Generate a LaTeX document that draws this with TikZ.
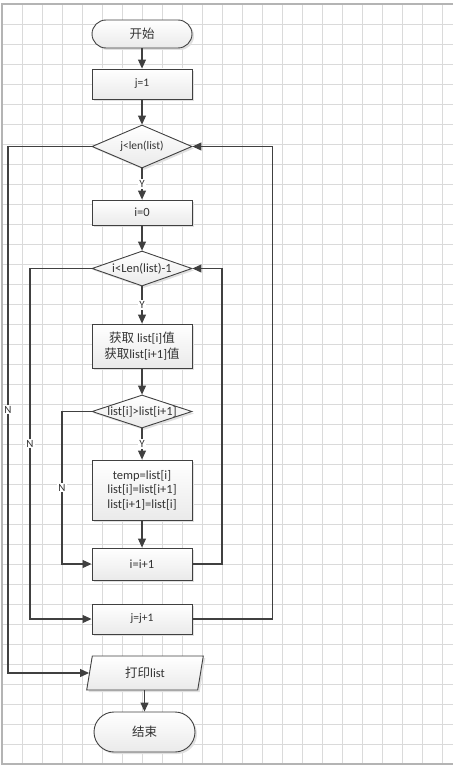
\documentclass[tikz,border=0pt]{standalone}
\usepackage{fontspec}
\setmainfont{Carlito}
\newfontfamily\cjk{Noto Sans CJK SC}
\usepackage{xcolor}
\usetikzlibrary{arrows.meta}
\usetikzlibrary{shapes.geometric}
\usetikzlibrary{shadows}
\definecolor{flowgray}{HTML}{404040}
\definecolor{gridgray}{HTML}{DADADA}
\definecolor{edgegray}{HTML}{B4B4B4}
\definecolor{boxbottom}{HTML}{EAEAEA}

\begin{document}
\begin{tikzpicture}[x=1pt,y=-1pt,
		font=\fontsize{12.5}{14.5}\selectfont, text=black!80,
		box/.style={draw=flowgray,line width=0.9pt,top color=white,bottom color=boxbottom,
			drop shadow={shadow xshift=2pt,shadow yshift=-2pt,fill=black!12,opacity=1},
			inner sep=0pt,minimum width=100pt,align=center},
		proc/.style={box,rectangle},
		term/.style={box,rectangle,rounded corners=#1},
		cond/.style={box,diamond},
		io/.style={box,trapezium,trapezium left angle=64,trapezium right angle=116,
			trapezium stretches body,minimum width=116.6pt},
		smalltext/.style={font=\fontsize{11.5}{14}\selectfont},
		flow/.style={draw=flowgray,line width=1.1pt},
		arr/.style={flow,-{Triangle[length=9pt,width=8pt]}},
		lbl/.style={fill=white,inner sep=1pt,font=\fontsize{11}{13}\selectfont}]
	\useasboundingbox (0,0) rectangle (453,765);
	% background grid
	\foreach \x in {2,22,...,442}
		\draw[gridgray,line width=0.8pt] (\x,4) -- (\x,764);
	\foreach \y in {4,24,...,764}
		\draw[gridgray,line width=0.8pt] (2,\y) -- (453,\y);
	\draw[edgegray,line width=1.2pt] (453,4) -- (2,4) -- (2,764) -- (453,764);
	
	% steps of the sort
	\node[term=14pt,minimum height=28pt] (start) at (142,34) {{\cjk 开始}};
	\node[proc,smalltext,minimum height=30pt] (jinit) at (142,84) {j=1};
	\node[cond,smalltext,minimum height=43pt] (outer) at (142,146.5) {\makebox[0pt]{j<len(list)}};
	\node[proc,minimum height=25pt] (iinit) at (142,212.5) {i=0};
	\node[cond,minimum height=35pt] (inner) at (142,268.5) {\makebox[0pt]{i<Len(list)-1}};
	\node[proc,minimum height=44pt,font=\fontsize{12.5}{16.5}\selectfont] (fetch) at (142,346)
		{{\cjk 获取} list[i]{\cjk 值}\\{\cjk 获取}list[i+1]{\cjk 值}};
	\node[cond,minimum height=33pt] (cmp) at (142,411.5) {\makebox[0pt]{list[i]>list[i+1]}};
	\node[proc,minimum height=60pt] (swap) at (142,490) {temp=list[i]\\list[i]=list[i+1]\\list[i+1]=list[i]};
	\node[proc,minimum height=32pt] (inci) at (142,564) {i=i+1};
	\node[proc,smalltext,minimum height=30pt] (incj) at (142,619) {j=j+1};
	\node[io,minimum height=34pt] (print) at (145,673) {{\cjk 打印}list};
	\node[term=20pt,minimum height=40pt,minimum width=101pt] (stop) at (144.5,732) {{\cjk 结束}};
	
	% main line
	\draw[arr] (start) -- (jinit);
	\draw[arr] (jinit) -- (outer);
	\draw[arr] (outer) -- node[lbl]{Y} (iinit);
	\draw[arr] (iinit) -- (inner);
	\draw[arr] (inner) -- node[lbl]{Y} (fetch);
	\draw[arr] (fetch) -- (cmp);
	\draw[arr] (cmp) -- node[lbl]{Y} (swap);
	\draw[arr] (swap) -- (inci);
	\draw[arr] (print.south -| stop.north) -- (stop.north);
	
	% N branches on the left
	\coordinate (nouter) at (8,0);
	\coordinate (nmid) at (30,0);
	\coordinate (ninner) at (62,0);
	\draw[arr] (outer.west) -- (outer.west -| nouter) -- node[lbl]{N} (print.west -| nouter) -- (print.west);
	\draw[arr] (inner.west) -- (inner.west -| nmid) -- node[lbl]{N} (incj.west -| nmid) -- (incj.west);
	\draw[arr] (cmp.west) -- (cmp.west -| ninner) -- node[lbl]{N} (inci.west -| ninner) -- (inci.west);
	
	% loops back on the right
	\coordinate (backi) at (222,0);
	\coordinate (backj) at (272.5,0);
	\draw[arr] (inci.east) -- (inci.east -| backi) -- (inner.east -| backi) -- (inner.east);
	\draw[arr] (incj.east) -- (incj.east -| backj) -- (outer.east -| backj) -- (outer.east);
\end{tikzpicture}
\end{document}
